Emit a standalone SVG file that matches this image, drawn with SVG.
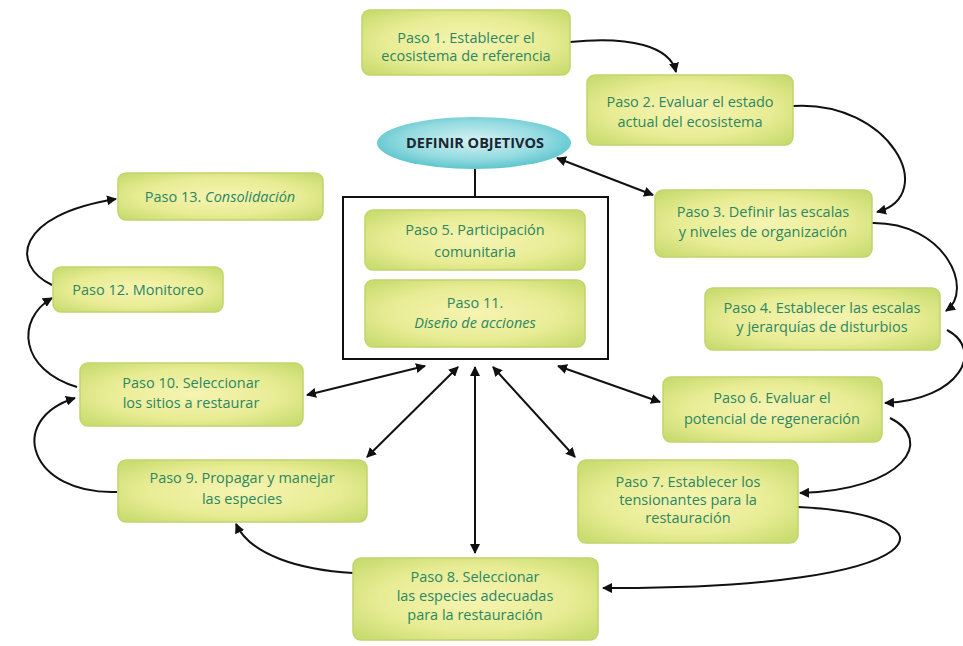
<svg xmlns="http://www.w3.org/2000/svg" width="963" height="646" viewBox="0 0 963 646">
<defs>
<radialGradient id="ng" cx="50%" cy="50%" r="65%">
<stop offset="0" stop-color="#f6f4b2"/>
<stop offset="0.6" stop-color="#e8ec94"/>
<stop offset="1" stop-color="#c9dc70"/>
</radialGradient>
<radialGradient id="eg" cx="50%" cy="45%" r="60%">
<stop offset="0" stop-color="#d6f2f2"/>
<stop offset="0.6" stop-color="#93dbe0"/>
<stop offset="1" stop-color="#4fbfc9"/>
</radialGradient>
<marker id="ah" viewBox="0 0 10 10" refX="9" refY="5" markerWidth="5" markerHeight="5" orient="auto-start-reverse">
<path d="M0,0 L10,5 L0,10 z" fill="#111"/>
</marker>
<style>
.n rect{fill:url(#ng);stroke:#c2d46c;stroke-width:1.5}
.n text{font-family:"Open Sans","Liberation Sans",sans-serif;font-size:14.5px;fill:#2c8762;text-anchor:middle}
.c path{fill:none;stroke:#111;stroke-width:2}
.a{marker-end:url(#ah)}
.d{marker-start:url(#ah);marker-end:url(#ah)}
</style>
</defs>
<rect width="963" height="646" fill="#fff"/>

<g class="c" id="connectors">
<line x1="475" y1="169" x2="475" y2="197" stroke="#111" stroke-width="2"/>
<path class="a" d="M570,42 C630,36 670,46 676,72"/>
<path class="a" d="M793,106 C890,100 940,195 877,212"/>
<path class="a" d="M872,223 C945,222 975,290 946,311"/>
<path class="a" d="M947,330 C985,350 960,400 885,403"/>
<path class="a" d="M890,418 C935,440 905,490 800,493"/>
<path class="a" d="M798,507 C965,515 945,590 603,588"/>
<path class="a" d="M353,573 C300,570 250,555 236,524"/>
<path class="a" d="M117,492 C30,495 5,420 75,398"/>
<path class="a" d="M77,387 C20,370 15,320 52,298"/>
<path class="a" d="M52,285 C10,265 15,215 116,199"/>
<path class="d" d="M557,158 L653,195"/>
<path class="d" d="M425,366 L307,395"/>
<path class="d" d="M458,367 L367,457"/>
<path class="d" d="M475,367 L475,553"/>
<path class="d" d="M493,367 L575,457"/>
<path class="d" d="M558,366 L660,402"/>
</g>

<g id="objetivos">
<ellipse cx="474" cy="143" rx="97" ry="26" fill="url(#eg)"/>
<text x="475" y="148" font-family="'Open Sans','Liberation Sans',sans-serif" font-size="14.5" font-weight="bold" fill="#1b2733" text-anchor="middle">DEFINIR OBJETIVOS</text>
</g>

<g id="grupo">
<rect x="343" y="197" width="265" height="162" fill="#fff" stroke="#111" stroke-width="2"/>
</g>

<g class="n" id="paso1"><rect x="362" y="10" width="208" height="65" rx="8"/><text x="466" y="43">Paso 1. Establecer el</text><text x="466" y="61">ecosistema de referencia</text></g>
<g class="n" id="paso2"><rect x="587" y="75" width="206" height="70" rx="8"/><text x="690" y="107">Paso 2. Evaluar el estado</text><text x="690" y="127">actual del ecosistema</text></g>
<g class="n" id="paso3"><rect x="655" y="190" width="217" height="67" rx="8"/><text x="763" y="217">Paso 3. Definir las escalas</text><text x="763" y="237">y niveles de organización</text></g>
<g class="n" id="paso4"><rect x="705" y="288" width="235" height="62" rx="8"/><text x="822" y="313">Paso 4. Establecer las escalas</text><text x="822" y="332">y jerarquías de disturbios</text></g>
<g class="n" id="paso5"><rect x="365" y="210" width="220" height="60" rx="8"/><text x="475" y="235">Paso 5. Participación</text><text x="475" y="257">comunitaria</text></g>
<g class="n" id="paso11"><rect x="365" y="280" width="220" height="67" rx="8"/><text x="475" y="308">Paso 11.</text><text x="475" y="328" font-style="italic">Diseño de acciones</text></g>
<g class="n" id="paso6"><rect x="663" y="377" width="219" height="65" rx="8"/><text x="772" y="403">Paso 6. Evaluar el</text><text x="772" y="424">potencial de regeneración</text></g>
<g class="n" id="paso7"><rect x="578" y="460" width="220" height="83" rx="8"/><text x="688" y="487">Paso 7. Establecer los</text><text x="688" y="505">tensionantes para la</text><text x="688" y="523">restauración</text></g>
<g class="n" id="paso8"><rect x="353" y="558" width="245" height="82" rx="8"/><text x="475" y="582">Paso 8. Seleccionar</text><text x="475" y="601">las especies adecuadas</text><text x="475" y="620">para la restauración</text></g>
<g class="n" id="paso9"><rect x="118" y="460" width="249" height="62" rx="8"/><text x="242" y="483">Paso 9. Propagar y manejar</text><text x="242" y="504">las especies</text></g>
<g class="n" id="paso10"><rect x="80" y="363" width="223" height="63" rx="8"/><text x="191" y="388">Paso 10. Seleccionar</text><text x="191" y="408">los sitios a restaurar</text></g>
<g class="n" id="paso12"><rect x="53" y="267" width="170" height="45" rx="8"/><text x="138" y="295">Paso 12. Monitoreo</text></g>
<g class="n" id="paso13"><rect x="118" y="173" width="205" height="47" rx="8"/><text x="220" y="202">Paso 13. <tspan font-style="italic">Consolidación</tspan></text></g>
</svg>
